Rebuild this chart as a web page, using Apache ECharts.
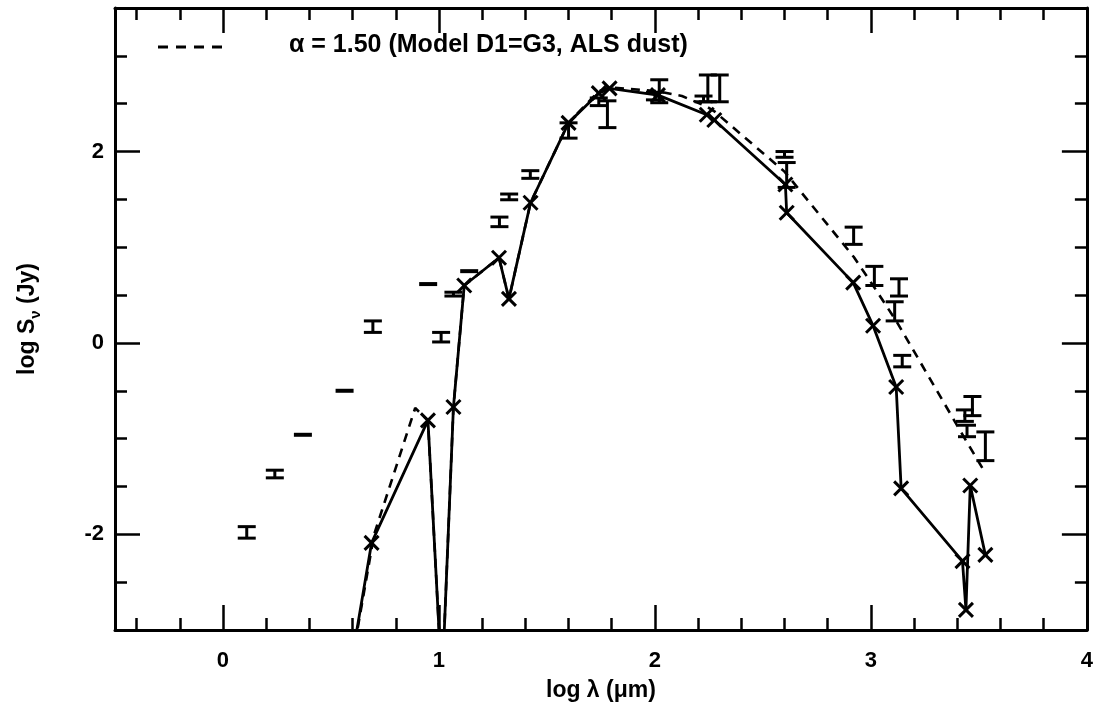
<!DOCTYPE html>
<html>
<head>
<meta charset="utf-8">
<script src="https://cdn.jsdelivr.net/npm/echarts@6/dist/echarts.min.js"></script>
<style>
html,body{margin:0;padding:0;background:#fff;}
#chart{width:1096px;height:709px;}
</style>
</head>
<body>
<div id="chart"></div>
<script>
// ---- data (log lambda [um], log S_nu [Jy]) ----
const xTickLabels = [0, 1, 2, 3, 4];
const xMinorTicks = [-0.4,-0.2,0.2,0.4,0.6,0.8,1.2,1.4,1.6,1.8,2.2,2.4,2.6,2.8,3.2,3.4,3.6,3.8];
const yTickLabels = [-2, 0, 2];
const yMinorTicks = [-2.5,-1.5,-1,-0.5,0.5,1,1.5,2.5,3];

// observations with error bars (err = 0 -> plain dash)
const obsX   = [0.11, 0.24, 0.37, 0.563, 0.694, 0.95, 1.01, 1.067, 1.14, 1.28, 1.325, 1.423, 1.6, 1.74, 1.78, 2.02, 2.0, 2.225, 2.245, 2.30, 2.6, 2.61, 2.92, 3.016, 3.13, 3.11, 3.145, 3.47, 3.435, 3.445, 3.53];
const obsY   = [-1.98, -1.37, -0.96, -0.50, 0.17, 0.615, 0.06, 0.51, 0.75, 1.265, 1.526, 1.76, 2.22, 2.52, 2.39, 2.63, 2.58, 2.55, 2.66, 2.66, 1.97, 1.755, 1.12, 0.70, 0.58, 0.33, -0.19, -0.66, -0.76, -0.92, -1.08];
const obsErr = [0.06, 0.04, 0, 0, 0.06, 0, 0.05, 0.02, 0, 0.05, 0.03, 0.04, 0.08, 0.04, 0.14, 0.12, 0.04, 0.03, 0.14, 0.14, 0.03, 0.13, 0.09, 0.10, 0.09, 0.10, 0.06, 0.10, 0.06, 0.06, 0.15];

// model (solid, crosses)
const solidX = [0.56, 0.688, 0.949, 1.014, 1.067, 1.117, 1.278, 1.324, 1.424, 1.6, 1.74, 1.79, 2.014, 2.24, 2.275, 2.604, 2.61, 2.918, 3.01, 3.117, 3.14, 3.424, 3.44, 3.46, 3.53];
const solidY = [-3.8, -2.09, -0.81, -3.59, -0.67, 0.6, 0.89, 0.46, 1.465, 2.3, 2.61, 2.66, 2.59, 2.385, 2.33, 1.656, 1.36, 0.63, 0.18, -0.46, -1.52, -2.28, -2.79, -1.49, -2.215];

// model alpha = 1.50 (dashed)
const dashX = [0.56, 0.70, 0.89, 0.949, 1.014, 1.067, 1.117, 1.278, 1.324, 1.424, 1.6, 1.74, 1.79, 2.014, 2.125, 2.24, 2.275, 2.6, 2.92, 3.01, 3.12, 3.44, 3.53];
const dashY = [-3.8, -2.0, -0.68, -0.81, -3.59, -0.67, 0.6, 0.89, 0.46, 1.465, 2.3, 2.63, 2.67, 2.63, 2.58, 2.47, 2.42, 1.79, 0.9, 0.6, 0.22, -1.02, -1.36];

const dashName = 'α = 1.50 (Model D1=G3, ALS dust)';

// ---- build ----
const zip = (a, b) => a.map((v, i) => [v, b[i]]);
const obsData = obsX.map((v, i) => [v, obsY[i], obsErr[i]]);
const X_MIN = -0.5, X_MAX = 4, Y_MIN = -3, Y_MAX = 3.5;
const FONT = '"Liberation Sans", Arial, Helvetica, sans-serif';
const BLACK = '#000';

function axisCommon(extra) {
  return Object.assign({
    type: 'value', gridIndex: 0,
    splitLine: { show: false },
    axisLine: { show: true, onZero: false, lineStyle: { color: BLACK, width: 3 } },
  }, extra);
}

const tickStyle = { color: BLACK, width: 2.5 };
const xAxes = [
  axisCommon({ position: 'bottom', min: X_MIN, max: X_MAX,
    name: 'log λ (μm)', nameLocation: 'middle', nameGap: 49,
    nameTextStyle: { fontFamily: FONT, fontWeight: 'bold', fontSize: 23, color: BLACK },
    axisTick: { show: true, inside: true, length: 25, lineStyle: tickStyle, customValues: xTickLabels },
    axisLabel: { show: true, customValues: xTickLabels, margin: 20, fontFamily: FONT, fontWeight: 'bold', fontSize: 22, color: BLACK } }),
  axisCommon({ position: 'bottom', min: X_MIN, max: X_MAX, axisLine: { show: false, onZero: false },
    axisTick: { show: true, inside: true, length: 12, lineStyle: tickStyle, customValues: xMinorTicks },
    axisLabel: { show: false } }),
  axisCommon({ position: 'top', min: X_MIN, max: X_MAX,
    axisTick: { show: true, inside: true, length: 25, lineStyle: tickStyle, customValues: xTickLabels },
    axisLabel: { show: false } }),
  axisCommon({ position: 'top', min: X_MIN, max: X_MAX, axisLine: { show: false, onZero: false },
    axisTick: { show: true, inside: true, length: 12, lineStyle: tickStyle, customValues: xMinorTicks },
    axisLabel: { show: false } })
];

const yAxes = [
  axisCommon({ position: 'left', min: Y_MIN, max: Y_MAX,
    name: '{a|log S}{s|ν}{a| (Jy)}', nameLocation: 'middle', nameGap: 72, nameRotate: 90,
    nameTextStyle: { rich: {
      a: { fontFamily: FONT, fontWeight: 'bold', fontSize: 23, color: BLACK, lineHeight: 30, verticalAlign: 'middle' },
      s: { fontFamily: FONT, fontWeight: 'bold', fontSize: 15, color: BLACK, lineHeight: 30, verticalAlign: 'bottom' } } },
    axisTick: { show: true, inside: true, length: 25, lineStyle: tickStyle, customValues: yTickLabels },
    axisLabel: { show: true, customValues: yTickLabels, margin: 11, fontFamily: FONT, fontWeight: 'bold', fontSize: 22, color: BLACK } }),
  axisCommon({ position: 'left', min: Y_MIN, max: Y_MAX, axisLine: { show: false, onZero: false },
    axisTick: { show: true, inside: true, length: 12, lineStyle: tickStyle, customValues: yMinorTicks },
    axisLabel: { show: false } }),
  axisCommon({ position: 'right', min: Y_MIN, max: Y_MAX,
    axisTick: { show: true, inside: true, length: 25, lineStyle: tickStyle, customValues: yTickLabels },
    axisLabel: { show: false } }),
  axisCommon({ position: 'right', min: Y_MIN, max: Y_MAX, axisLine: { show: false, onZero: false },
    axisTick: { show: true, inside: true, length: 12, lineStyle: tickStyle, customValues: yMinorTicks },
    axisLabel: { show: false } })
];

function renderErr(params, api) {
  const x = api.value(0), y = api.value(1), e = api.value(2);
  const hw = 9;
  if (!e) {
    const c = api.coord([x, y]);
    return { type: 'line', shape: { x1: c[0] - hw, y1: c[1], x2: c[0] + hw, y2: c[1] },
      style: { stroke: BLACK, lineWidth: 4 } };
  }
  const t = api.coord([x, y + e]), b = api.coord([x, y - e]);
  const st = { stroke: BLACK, lineWidth: 3 };
  return { type: 'group', children: [
    { type: 'line', shape: { x1: t[0], y1: t[1], x2: b[0], y2: b[1] }, style: st },
    { type: 'line', shape: { x1: t[0] - hw, y1: t[1], x2: t[0] + hw, y2: t[1] }, style: st },
    { type: 'line', shape: { x1: b[0] - hw, y1: b[1], x2: b[0] + hw, y2: b[1] }, style: st }
  ] };
}

function renderCross(params, api) {
  const x = api.value(0), y = api.value(1);
  if (y < Y_MIN || y > Y_MAX) return null;
  const c = api.coord([x, y]);
  const h = 7;
  const st = { stroke: BLACK, lineWidth: 3 };
  return { type: 'group', children: [
    { type: 'line', shape: { x1: c[0] - h, y1: c[1] - h, x2: c[0] + h, y2: c[1] + h }, style: st },
    { type: 'line', shape: { x1: c[0] - h, y1: c[1] + h, x2: c[0] + h, y2: c[1] - h }, style: st }
  ] };
}

const chart = echarts.init(document.getElementById('chart'), null, { renderer: 'canvas' });
chart.setOption({
  animation: false,
  backgroundColor: '#fff',
  grid: { left: 115, right: 6, top: 8, bottom: 79, containLabel: false },
  xAxis: xAxes,
  yAxis: yAxes,
  graphic: [
    { type: 'line', shape: { x1: 158, y1: 47, x2: 226, y2: 47 },
      style: { stroke: BLACK, lineWidth: 3, lineDash: [10, 8] } },
    { type: 'text', left: 289, top: 33,
      style: { text: dashName, font: 'bold 25px ' + FONT, fill: BLACK } }
  ],
  series: [
    { name: dashName, type: 'line', data: zip(dashX, dashY), xAxisIndex: 0, yAxisIndex: 0,
      symbol: 'none', clip: true, lineStyle: { color: BLACK, width: 2.6, type: [9, 7] }, z: 2 },
    { name: 'model', type: 'line', data: zip(solidX, solidY), xAxisIndex: 0, yAxisIndex: 0,
      symbol: 'none', clip: true, lineStyle: { color: BLACK, width: 2.8 }, z: 3 },
    { name: 'crosses', type: 'custom', data: zip(solidX, solidY), xAxisIndex: 0, yAxisIndex: 0,
      renderItem: renderCross, clip: true, encode: { x: 0, y: 1 }, z: 4 },
    { name: 'observed', type: 'custom', data: obsData, xAxisIndex: 0, yAxisIndex: 0,
      renderItem: renderErr, clip: true, encode: { x: 0, y: 1 }, z: 5 }
  ]
});
</script>
</body>
</html>
